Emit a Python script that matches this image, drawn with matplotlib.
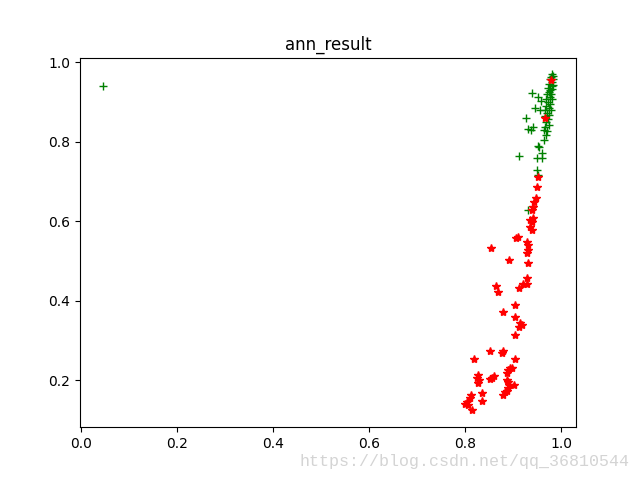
import matplotlib
matplotlib.use("Agg")
import matplotlib.pyplot as plt

green_x = [0.982, 0.984, 0.979, 0.984, 0.976, 0.981, 0.974, 0.980, 0.983, 0.972,
           0.977, 0.982, 0.974, 0.970, 0.979, 0.976, 0.968, 0.981, 0.972, 0.977,
           0.968, 0.974, 0.966, 0.979, 0.970, 0.975, 0.966, 0.972, 0.968, 0.974,
           0.966, 0.971,
           0.045, 0.939, 0.951, 0.958, 0.945, 0.956, 0.926, 0.931, 0.937, 0.941,
           0.964, 0.968, 0.964, 0.951, 0.954, 0.912, 0.960, 0.949, 0.960, 0.949,
           0.951, 0.931]
green_y = [0.970, 0.965, 0.963, 0.958, 0.958, 0.951, 0.946, 0.941, 0.943, 0.936,
           0.931, 0.933, 0.926, 0.921, 0.921, 0.913, 0.908, 0.909, 0.901, 0.896,
           0.891, 0.886, 0.880, 0.881, 0.873, 0.868, 0.866, 0.858, 0.851, 0.843,
           0.838, 0.828,
           0.942, 0.922, 0.912, 0.904, 0.886, 0.881, 0.859, 0.833, 0.831, 0.838,
           0.831, 0.818, 0.806, 0.790, 0.788, 0.765, 0.773, 0.760, 0.760, 0.730,
           0.717, 0.629]

red_x = [0.9785, 0.9660, 0.9515, 0.9494, 0.9473, 0.9431, 0.9410, 0.9390, 0.9348, 0.9410,
         0.9390, 0.9348, 0.9390, 0.9098, 0.9056, 0.9285, 0.9306, 0.9306, 0.9285, 0.8535,
         0.8910, 0.9306, 0.9285, 0.9202, 0.8640, 0.8681, 0.9119, 0.9285, 0.8785, 0.9035,
         0.9035, 0.9140, 0.9181, 0.9119, 0.9035, 0.8515, 0.8765, 0.8785, 0.8181, 0.9035,
         0.8890, 0.8931, 0.8973, 0.8869, 0.8265, 0.8244, 0.8285, 0.8265, 0.8556, 0.8598,
         0.8515, 0.8869, 0.8890, 0.8910, 0.8890, 0.9015, 0.8348, 0.8827, 0.8785, 0.8869,
         0.8119, 0.8098, 0.8035, 0.7994, 0.8056, 0.8348, 0.8140]
red_y = [0.9571, 0.8612, 0.7123, 0.6871, 0.6593, 0.6492, 0.6366, 0.6290, 0.6038, 0.6088,
         0.5987, 0.5861, 0.5785, 0.5609, 0.5584, 0.5483, 0.5407, 0.5281, 0.5205, 0.5331,
         0.5028, 0.4953, 0.4574, 0.4423, 0.4372, 0.4221, 0.4322, 0.4423, 0.3716, 0.3893,
         0.3590, 0.3439, 0.3388, 0.3338, 0.3136, 0.2732, 0.2681, 0.2732, 0.2530, 0.2530,
         0.2252, 0.2303, 0.2303, 0.2177, 0.2126, 0.2050, 0.2000, 0.1924, 0.2050, 0.2101,
         0.2025, 0.2000, 0.1949, 0.1874, 0.1798, 0.1874, 0.1672, 0.1697, 0.1621, 0.1722,
         0.1621, 0.1546, 0.1445, 0.1394, 0.1369, 0.1470, 0.1240]

fig = plt.figure(figsize=(6.4, 4.8), dpi=100)
ax = fig.add_subplot(111)
ax.plot(green_x, green_y, 'g+')
ax.plot(red_x, red_y, 'r*')
ax.set_title("ann_result")
fig.text(0.468, 0.030, "https://blog.csdn.net/qq_36810544", color="#d4d4d4",
         family="Liberation Mono", fontsize=12)
fig.savefig("out.png", dpi=100)
